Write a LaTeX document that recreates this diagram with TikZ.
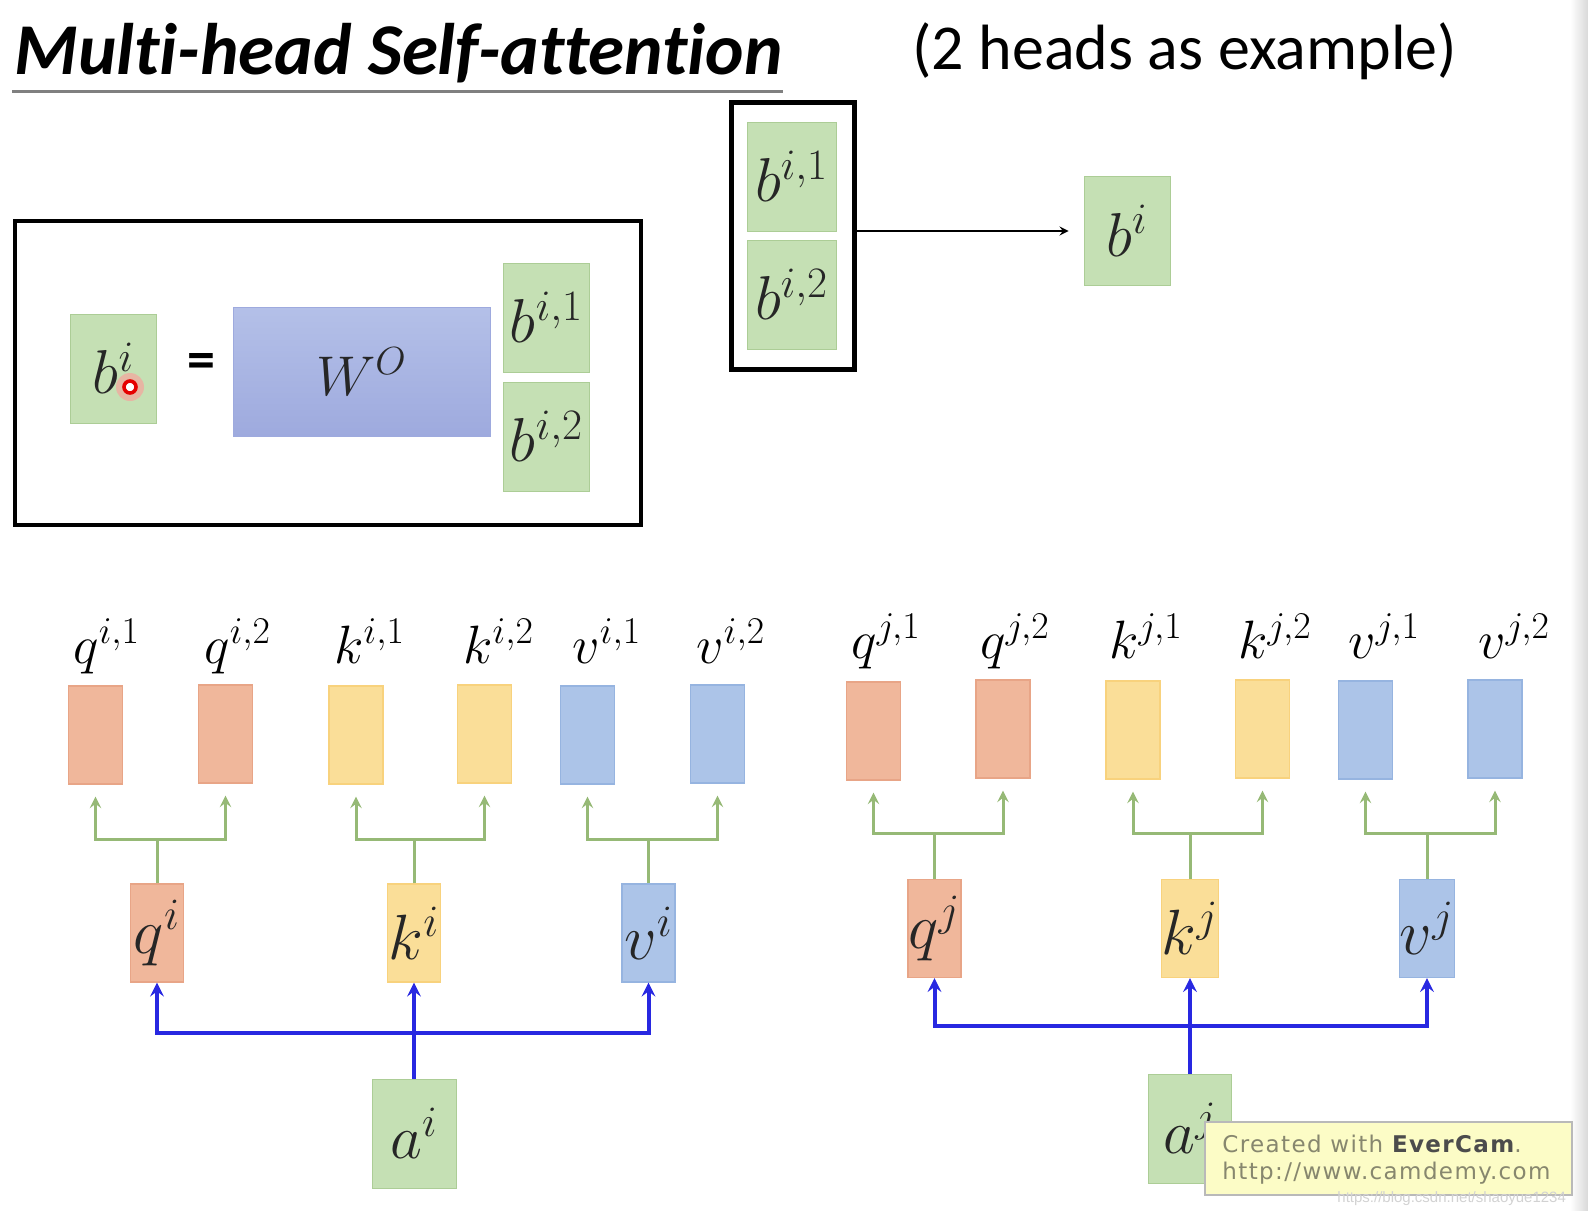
\documentclass[tikz,border=0pt]{standalone}
\usepackage{fix-cm}
\usepackage{fontspec}
\newfontfamily\carlito[Ligatures=NoCommon]{Carlito}
\newfontfamily\dejavu[LetterSpace=6]{DejaVu Sans}
\newfontfamily\libsans{Liberation Sans}

\definecolor{cgreen}{RGB}{197,224,180}
\definecolor{cgreenbd}{RGB}{172,205,150}
\definecolor{corange}{RGB}{240,183,155}
\definecolor{corangebd}{RGB}{232,165,135}
\definecolor{cyellow}{RGB}{250,222,152}
\definecolor{cyellowbd}{RGB}{248,210,125}
\definecolor{clblue}{RGB}{172,196,232}
\definecolor{clbluebd}{RGB}{150,180,224}
\definecolor{cwtop}{RGB}{180,192,232}
\definecolor{cwbot}{RGB}{158,170,222}
\definecolor{cgline}{RGB}{150,185,118}
\definecolor{cblue}{RGB}{40,40,225}
\definecolor{cnote}{RGB}{252,252,198}
\definecolor{cnotetext}{RGB}{135,135,110}

\begin{document}
\begin{tikzpicture}[x=0.5pt, y=-0.5pt,
        frame/.style={draw, line width=2pt, inner sep=0pt},
        gbox/.style={draw=cgreenbd, fill=cgreen, inner sep=0pt, minimum width=43pt, minimum height=54.5pt, text=black!85, font=\fontsize{31}{36}\selectfont},
        wbox/.style={draw=cwbot, top color=cwtop, bottom color=cwbot, inner sep=0pt, minimum width=128.5pt, minimum height=64.5pt, text=black!85, font=\fontsize{28}{32}\selectfont},
        vecbox/.style={draw, inner sep=0pt, minimum width=27pt, minimum height=49pt, line width=0.6pt},
        qvec/.style={vecbox, fill=corange, draw=corangebd},
        kvec/.style={vecbox, fill=cyellow, draw=cyellowbd},
        vvec/.style={vecbox, fill=clblue, draw=clbluebd},
        midbox/.style={vecbox, minimum width=26.5pt, text=black!85, font=\fontsize{32}{36}\selectfont},
        lbl/.style={inner sep=0pt, anchor=base west, font=\fontsize{27}{30}\selectfont},
        arrow/.style={->, >=stealth, line width=1pt},
        gpath/.style={draw=cgline, line width=1.5pt},
        garrow/.style={->, >=stealth, draw=cgline, line width=1.5pt, shorten >=6pt},
        bpath/.style={draw=cblue, line width=2pt},
        barrow/.style={->, >=stealth, draw=cblue, line width=2pt}
        ]
        \useasboundingbox (0,0) rectangle (1588,1210);
        \shade[left color=white, right color=gray!30] (1570,0) rectangle (1588,1210);

        % title
        \node[inner sep=0pt, anchor=base west, font=\carlito\bfseries\itshape\fontsize{36.5}{40}\selectfont] (title) at (14,74) {Multi-head Self-attention};
        \draw[gray, line width=1.5pt] (12,91) -- (783,91);
        \node[inner sep=0pt, anchor=base west, font=\carlito\fontsize{32}{36}\selectfont] (subtitle) at (912,69) {(2 heads as example)};

        % b^i = W^O [b^{i,1}; b^{i,2}]
        \node[frame, minimum width=313pt, minimum height=152pt] (eqbox) at (328,373) {};
        \node[gbox] (blhs) at (113.5,368.5) {$b^i$};
        \fill[red!40, opacity=0.6] (130,387) circle (7pt);
        \draw[red!90!black, line width=1.8pt, fill=white] (130,387) circle (3pt);
        \node[inner sep=0pt, font=\carlito\bfseries\fontsize{28}{30}\selectfont] (eq) at (201,366) {=};
        \node[wbox] (wo) at (361.5,371.5) {$W^O$};
        \node[gbox] (bh1) at (546.5,317.5) {$b^{i,1}$};
        \node[gbox] (bh2) at (546.5,436.5) {$b^{i,2}$};

        % concat -> b^i
        \node[frame, line width=2.5pt, minimum width=61.5pt, minimum height=133.5pt] (stack) at (792.5,235.5) {};
        \node[gbox, minimum width=44.5pt] (bs1) at (791.5,176.5) {$b^{i,1}$};
        \node[gbox, minimum width=44.5pt] (bs2) at (791.5,294.5) {$b^{i,2}$};
        \node[gbox] (bout) at (1127,231) {$b^i$};
        \draw[arrow] (stack.east |- bout) -- ([xshift=-7.5pt]bout.west);

        % heads of i
        \node[qvec] (qi1) at (95.5,735) {};
        \node[qvec] (qi2) at (225.5,734) {};
        \node[kvec] (ki1) at (356,735) {};
        \node[kvec] (ki2) at (484.5,734) {};
        \node[vvec] (vi1) at (587.5,735) {};
        \node[vvec] (vi2) at (717.5,734) {};
        \node[lbl] (lqi1) at (73,663) {$q^{i,1}$};
        \node[lbl] (lqi2) at (204,663) {$q^{i,2}$};
        \node[lbl] (lki1) at (334,663) {$k^{i,1}$};
        \node[lbl] (lki2) at (463,663) {$k^{i,2}$};
        \node[lbl] (lvi1) at (572,663) {$v^{i,1}$};
        \node[lbl] (lvi2) at (696,663) {$v^{i,2}$};

        \node[midbox, fill=corange, draw=corangebd] (qi) at (157,933) {$q^i$};
        \node[midbox, fill=cyellow, draw=cyellowbd] (ki) at (414,933) {$k^i$};
        \node[midbox, fill=clblue, draw=clbluebd] (vi) at (648.5,933) {$v^i$};
        \node[gbox, minimum width=42pt] (ai) at (414,1133.5) {$a^i$};

        \coordinate (qisplit) at (157,839);
        \coordinate (kisplit) at (414,839);
        \coordinate (visplit) at (648.5,839);
        \draw[gpath] (qi.north) -- (qisplit);
        \draw[garrow] (qisplit) -| (qi1.south);
        \draw[garrow] (qisplit) -| (qi2.south);
        \draw[gpath] (ki.north) -- (kisplit);
        \draw[garrow] (kisplit) -| (ki1.south);
        \draw[garrow] (kisplit) -| (ki2.south);
        \draw[gpath] (vi.north) -- (visplit);
        \draw[garrow] (visplit) -| (vi1.south);
        \draw[garrow] (visplit) -| (vi2.south);

        \coordinate (aisplit) at (414,1033);
        \draw[bpath] (ai.north) -- (aisplit);
        \draw[barrow] (aisplit) -| (qi.south);
        \draw[barrow] (aisplit) -- (ki.south);
        \draw[barrow] (aisplit) -| (vi.south);

        % heads of j
        \node[qvec] (qj1) at (873.5,731) {};
        \node[qvec] (qj2) at (1003,729) {};
        \node[kvec] (kj1) at (1133,730) {};
        \node[kvec] (kj2) at (1262.5,729) {};
        \node[vvec] (vj1) at (1365.5,730) {};
        \node[vvec] (vj2) at (1495,729) {};
        \node[lbl] (lqj1) at (851,658) {$q^{j,1}$};
        \node[lbl] (lqj2) at (980,658) {$q^{j,2}$};
        \node[lbl] (lkj1) at (1109,658) {$k^{j,1}$};
        \node[lbl] (lkj2) at (1238,658) {$k^{j,2}$};
        \node[lbl] (lvj1) at (1348,658) {$v^{j,1}$};
        \node[lbl] (lvj2) at (1478,658) {$v^{j,2}$};

        \node[midbox, fill=corange, draw=corangebd] (qj) at (934.5,928.5) {$q^j$};
        \node[midbox, fill=cyellow, draw=cyellowbd] (kj) at (1190,928.5) {$k^j$};
        \node[midbox, fill=clblue, draw=clbluebd] (vj) at (1427,928.5) {$v^j$};
        \node[gbox, minimum width=41.5pt] (aj) at (1190,1128.5) {$a^j$};

        \coordinate (qjsplit) at (934.5,833);
        \coordinate (kjsplit) at (1190,833);
        \coordinate (vjsplit) at (1427,833);
        \draw[gpath] (qj.north) -- (qjsplit);
        \draw[garrow] (qjsplit) -| (qj1.south);
        \draw[garrow] (qjsplit) -| (qj2.south);
        \draw[gpath] (kj.north) -- (kjsplit);
        \draw[garrow] (kjsplit) -| (kj1.south);
        \draw[garrow] (kjsplit) -| (kj2.south);
        \draw[gpath] (vj.north) -- (vjsplit);
        \draw[garrow] (vjsplit) -| (vj1.south);
        \draw[garrow] (vjsplit) -| (vj2.south);

        \coordinate (ajsplit) at (1190,1026);
        \draw[bpath] (aj.north) -- (ajsplit);
        \draw[barrow] (ajsplit) -| (qj.south);
        \draw[barrow] (ajsplit) -- (kj.south);
        \draw[barrow] (ajsplit) -| (vj.south);

        % recorder overlay
        \node[draw=gray!55, fill=cnote, line width=0.8pt, minimum width=183.5pt, minimum height=36.5pt, inner sep=0pt] (note) at (1388.5,1158.5) {};
        \node[inner sep=0pt, anchor=base west, text=cnotetext, font=\dejavu\fontsize{11.5}{13}\selectfont] (notea) at (1222,1152) {Created with {\bfseries\color{black!70}EverCam}.};
        \node[inner sep=0pt, anchor=base west, text=cnotetext, font=\dejavu\fontsize{11.5}{13}\selectfont] (noteb) at (1222,1179) {http://www.camdemy.com};
        \node[inner sep=0pt, anchor=west, text=gray!35, font=\libsans\fontsize{7.5}{9}\selectfont] (csdn) at (1337,1199) {https://blog.csdn.net/shaoyue1234};
    \end{tikzpicture}
\end{document}
